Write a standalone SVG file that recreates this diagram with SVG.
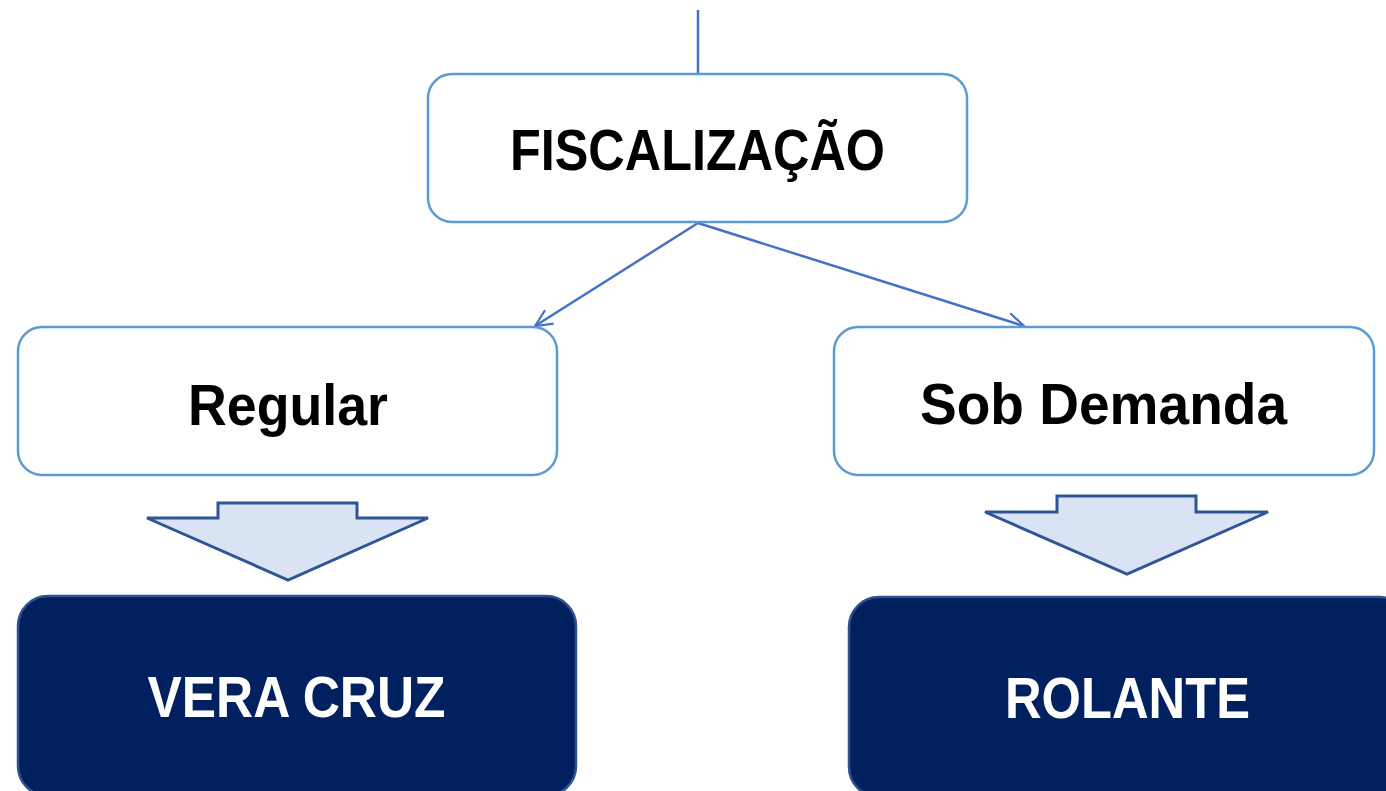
<svg xmlns="http://www.w3.org/2000/svg" width="1386" height="791" viewBox="0 0 1386 791">
  <defs>
    <marker id="open" viewBox="0 0 20 20" refX="19" refY="10" markerWidth="20" markerHeight="20" markerUnits="userSpaceOnUse" orient="auto">
      <path d="M2,2 L19,10 L2,18" fill="none" stroke="#4472C4" stroke-width="2.2"/>
    </marker>
  </defs>
  <style>
    .light { fill: #FFFFFF; stroke: #5B9BD5; stroke-width: 2.5; }
    .dark { fill: #002060; stroke: #2F528F; stroke-width: 2.5; }
    .blk { fill: #DAE3F3; stroke: #2F5597; stroke-width: 3; stroke-linejoin: miter; }
    .conn { stroke: #4472C4; stroke-width: 2.5; fill: none; }
    .t { font-family: "Liberation Sans", Arial, sans-serif; font-weight: bold; font-size: 58px; text-anchor: middle; }
    .tb { fill: #000000; }
    .tw { fill: #FFFFFF; }
  </style>
  <rect width="1386" height="791" fill="#FFFFFF"/>
  <g id="connectors">
    <line class="conn" x1="698" y1="10" x2="698" y2="74" stroke-width="3"/>
    <line class="conn" x1="698" y1="223" x2="535" y2="326" marker-end="url(#open)"/>
    <line class="conn" x1="698" y1="223" x2="1024" y2="326" marker-end="url(#open)"/>
    <polygon class="blk" points="147,518 218,518 218,503 357,503 357,518 428,518 288,580"/>
    <polygon class="blk" points="985,512 1057,512 1057,496 1196,496 1196,512 1268,512 1127,574"/>
  </g>
  <g id="fiscalizacao">
    <rect class="light" x="428" y="74" width="539" height="148" rx="24"/>
    <text class="t tb" x="697.5" y="170" textLength="375" lengthAdjust="spacingAndGlyphs">FISCALIZAÇÃO</text>
  </g>
  <g id="regular">
    <rect class="light" x="18" y="327" width="539" height="148" rx="24"/>
    <text class="t tb" x="288" y="425" textLength="200" lengthAdjust="spacingAndGlyphs">Regular</text>
  </g>
  <g id="sob-demanda">
    <rect class="light" x="834" y="327" width="540" height="148" rx="24"/>
    <text class="t tb" x="1103.5" y="424" textLength="367" lengthAdjust="spacingAndGlyphs">Sob Demanda</text>
  </g>
  <g id="vera-cruz">
    <rect class="dark" x="18" y="596" width="558" height="200" rx="30"/>
    <text class="t tw" x="296.5" y="717" textLength="298" lengthAdjust="spacingAndGlyphs">VERA CRUZ</text>
  </g>
  <g id="rolante">
    <rect class="dark" x="849" y="597" width="560" height="200" rx="30"/>
    <text class="t tw" x="1127.5" y="718" textLength="245" lengthAdjust="spacingAndGlyphs">ROLANTE</text>
  </g>
</svg>
